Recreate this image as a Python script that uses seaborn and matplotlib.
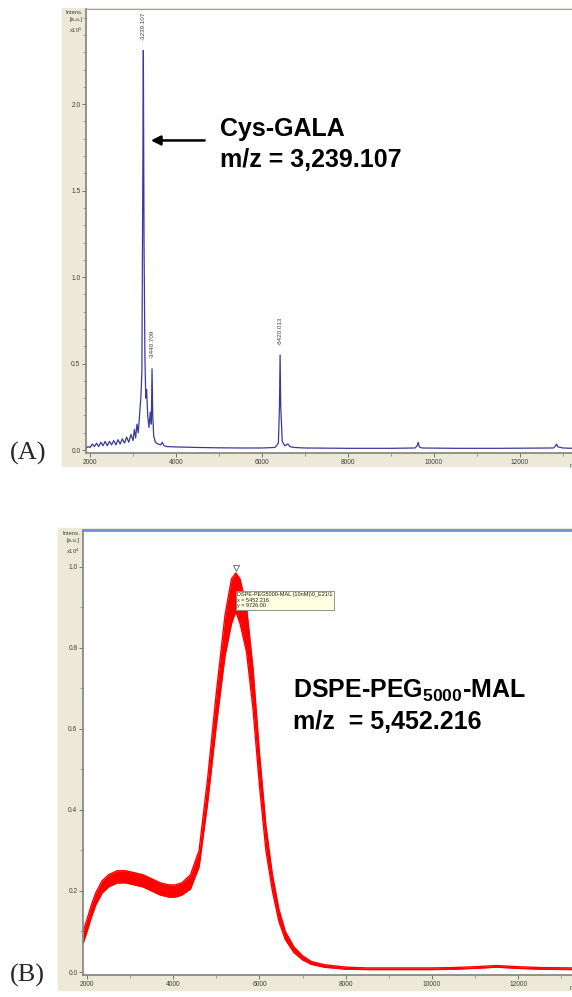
import matplotlib
matplotlib.use("Agg")
import matplotlib.pyplot as plt
import seaborn as sns
from matplotlib.patches import Rectangle
from matplotlib.ticker import MultipleLocator, FormatStrFormatter, FixedLocator

# (A) Cys-GALA spectrum, intensity in units of 1e5
mz_a = [1905, 1950, 2000, 2050, 2100, 2150, 2200, 2250, 2300, 2350, 2400, 2450, 2500,
        2550, 2600, 2650, 2700, 2750, 2800, 2850, 2900, 2950, 3000, 3030, 3060, 3090,
        3120, 3150, 3180, 3205, 3225, 3239, 3255, 3275, 3295, 3315, 3340, 3370, 3400,
        3425, 3441, 3458, 3480, 3520, 3580, 3640, 3680, 3720, 3800, 4000, 4500, 5000,
        5500, 6000, 6300, 6380, 6405, 6420, 6435, 6470, 6530, 6600, 6650, 6750, 7000,
        8000, 9000, 9560, 9610, 9630, 9660, 9720, 10500, 11500, 12780, 12830, 12850,
        12880, 12950, 13000, 13250]
int_a = [0.01, 0.02, 0.015, 0.035, 0.02, 0.04, 0.02, 0.045, 0.025, 0.05, 0.025, 0.05, 0.03,
         0.055, 0.03, 0.06, 0.035, 0.065, 0.04, 0.075, 0.045, 0.09, 0.055, 0.12, 0.07, 0.15,
         0.1, 0.2, 0.3, 0.45, 1.5, 2.31, 1.2, 0.55, 0.3, 0.35, 0.2, 0.13, 0.22,
         0.15, 0.47, 0.2, 0.08, 0.045, 0.035, 0.03, 0.045, 0.025, 0.02, 0.018, 0.015, 0.013,
         0.012, 0.012, 0.015, 0.04, 0.25, 0.55, 0.25, 0.05, 0.025, 0.035, 0.02, 0.015, 0.012,
         0.01, 0.01, 0.012, 0.025, 0.045, 0.018, 0.012, 0.01, 0.01, 0.012, 0.025, 0.035,
         0.018, 0.015, 0.012, 0.01]
yticks_a = [0.0, 0.5, 1.0, 1.5, 2.0]
peak_labels_a = ["3239.107", "3440.709", "6420.013"]
peak_mz_a = [3239, 3441, 6420]
peak_int_a = [2.31, 0.47, 0.55]

# (B) DSPE-PEG5000-MAL spectrum, intensity in units of 1e4 (noisy band: lower / upper)
mz_b = [1907, 2000, 2100, 2200, 2350, 2500, 2700, 2900, 3100, 3300, 3500, 3700, 3900,
        4050, 4200, 4400, 4600, 4800, 5000, 5200, 5350, 5450, 5550, 5700, 5850, 6000,
        6150, 6300, 6450, 6600, 6800, 7000, 7200, 7500, 8000, 8500, 9000, 9500, 10000,
        10500, 11000, 11500, 12000, 12500, 13250]
low_b = [0.07, 0.10, 0.135, 0.165, 0.195, 0.21, 0.22, 0.22, 0.215, 0.21, 0.20, 0.19, 0.185,
         0.185, 0.19, 0.205, 0.26, 0.42, 0.61, 0.78, 0.86, 0.89, 0.86, 0.79, 0.65, 0.46,
         0.30, 0.20, 0.125, 0.08, 0.048, 0.03, 0.019, 0.012, 0.007, 0.006, 0.006, 0.006, 0.006,
         0.007, 0.009, 0.012, 0.009, 0.007, 0.006]
up_b = [0.10, 0.13, 0.165, 0.195, 0.225, 0.24, 0.25, 0.25, 0.245, 0.24, 0.23, 0.22, 0.215,
        0.215, 0.22, 0.24, 0.30, 0.48, 0.69, 0.88, 0.97, 0.985, 0.97, 0.90, 0.75, 0.54,
        0.36, 0.24, 0.155, 0.10, 0.062, 0.04, 0.026, 0.018, 0.012, 0.01, 0.01, 0.01, 0.01,
        0.011, 0.013, 0.016, 0.013, 0.011, 0.01]
yticks_b = [0.0, 0.2, 0.4, 0.6, 0.8, 1.0]
peak_mz_b = 5452.216
peak_int_b = 0.9726

sns.set_style("ticks")
plt.rcParams["font.family"] = ["Liberation Sans", "DejaVu Sans"]
plt.rcParams["mathtext.fontset"] = "custom"
plt.rcParams["mathtext.bf"] = "Liberation Sans:bold"
plt.rcParams["mathtext.rm"] = "Liberation Sans"

W, H = 572, 997
fig = plt.figure(figsize=(W / 100, H / 100), dpi=100)
fig.patch.set_facecolor("white")

beige = "#ECE9D8"
fig.add_artist(Rectangle((62 / W, 1 - 466 / H), (W - 62) / W, (466 - 8) / H,
                         transform=fig.transFigure, color=beige, zorder=0))
fig.add_artist(Rectangle((58 / W, 1 - 990 / H), (W - 58) / W, (990 - 528) / H,
                         transform=fig.transFigure, color=beige, zorder=0))

ax_a = fig.add_axes([86 / W, 1 - 453 / H, (W - 86) / W, (453 - 9) / H])
ax_b = fig.add_axes([83 / W, 1 - 975 / H, (W - 83) / W, (975 - 530) / H])


def style_axes(ax, yticks, top_color, top_lw, sup):
    ax.set_facecolor("white")
    ax.spines["right"].set_visible(False)
    ax.spines["left"].set_color("#808080")
    ax.spines["bottom"].set_color("#808080")
    ax.spines["left"].set_linewidth(1.2)
    ax.spines["bottom"].set_linewidth(1.2)
    ax.spines["top"].set_color(top_color)
    ax.spines["top"].set_linewidth(top_lw)
    ax.xaxis.set_major_locator(MultipleLocator(2000))
    ax.xaxis.set_minor_locator(MultipleLocator(1000))
    ax.yaxis.set_major_locator(FixedLocator(yticks))
    ax.yaxis.set_minor_locator(MultipleLocator(0.1))
    ax.yaxis.set_major_formatter(FormatStrFormatter("%.1f"))
    ax.tick_params(which="major", length=3, width=0.6, color="#606060",
                   labelsize=4.8, labelcolor="#404040", pad=1)
    ax.tick_params(which="minor", length=2, width=0.5, color="#808080")
    ax.set_xlabel("")
    ax.set_ylabel("")
    ax.text(0.995, -0.022, "m/z", transform=ax.transAxes, fontsize=4.8,
            color="#404040", ha="left", va="top")
    ax.text(-0.006, 0.998, "Intens.\n[a.u.]\nx10$^%d$" % sup, transform=ax.transAxes,
            fontsize=4.2, color="#404040", ha="right", va="top", linespacing=1.5)


# ---- (A)
sns.lineplot(x=mz_a, y=int_a, ax=ax_a, color="#3a3a9c", linewidth=0.9,
             sort=False, estimator=None)
ax_a.set_xlim(1905, 13210)
ax_a.set_ylim(-0.017, 2.55)
style_axes(ax_a, yticks_a, "#a0a0a0", 0.8, 5)
for lab, mz, yv in zip(peak_labels_a, peak_mz_a, peak_int_a):
    ax_a.text(mz, yv + 0.06, "-" + lab, rotation=90, fontsize=4.5, color="#404040",
              ha="center", va="bottom")

ax_a.text(0.275, 0.695, "Cys-GALA\nm/z = 3,239.107", transform=ax_a.transAxes,
          fontsize=18, fontweight="bold", color="black", ha="left", va="center",
          linespacing=1.35)
ax_a.annotate("", xy=(3350, 1.79), xytext=(4730, 1.79),
              arrowprops=dict(arrowstyle="-|>", color="black", lw=1.8,
                              mutation_scale=14))

# ---- (B)
ax_b.fill_between(mz_b, low_b, up_b, color="#ff0000", linewidth=0)
sns.lineplot(x=mz_b, y=low_b, ax=ax_b, color="#ff0000", linewidth=1.0,
             sort=False, estimator=None)
sns.lineplot(x=mz_b, y=up_b, ax=ax_b, color="#ff0000", linewidth=1.0,
             sort=False, estimator=None)
ax_b.set_xlim(1907, 13250)
ax_b.set_ylim(-0.0074, 1.091)
style_axes(ax_b, yticks_b, "#6f8fd8", 2.0, 4)
ax_b.plot([peak_mz_b], [peak_int_b + 0.025], marker="v", markersize=4,
          markerfacecolor="white", markeredgecolor="#606060", markeredgewidth=0.6)
ax_b.text(peak_mz_b + 30, peak_int_b - 0.035,
          "DSPE-PEG5000-MAL (10nM)\\0_E21\\1\nx = %.3f\ny = %.2f" % (peak_mz_b, peak_int_b * 1e4),
          fontsize=4.0, color="#202020", ha="left", va="top", linespacing=1.15,
          bbox=dict(boxstyle="square,pad=0.25", facecolor="#FFFFE1",
                    edgecolor="#808080", linewidth=0.6))

ax_b.text(0.43, 0.605, "DSPE-PEG$_{\\mathbf{5000}}$-MAL\nm/z  = 5,452.216",
          transform=ax_b.transAxes, fontsize=18, fontweight="bold", color="black",
          ha="left", va="center", linespacing=1.35)

# panel letters
fig.text(10 / W, 1 - 453 / H, "(A)", family=["Liberation Serif", "DejaVu Serif"],
         fontsize=19, ha="left", va="center")
fig.text(10 / W, 1 - 975 / H, "(B)", family=["Liberation Serif", "DejaVu Serif"],
         fontsize=19, ha="left", va="center")

fig.savefig("out.png", dpi=100)
